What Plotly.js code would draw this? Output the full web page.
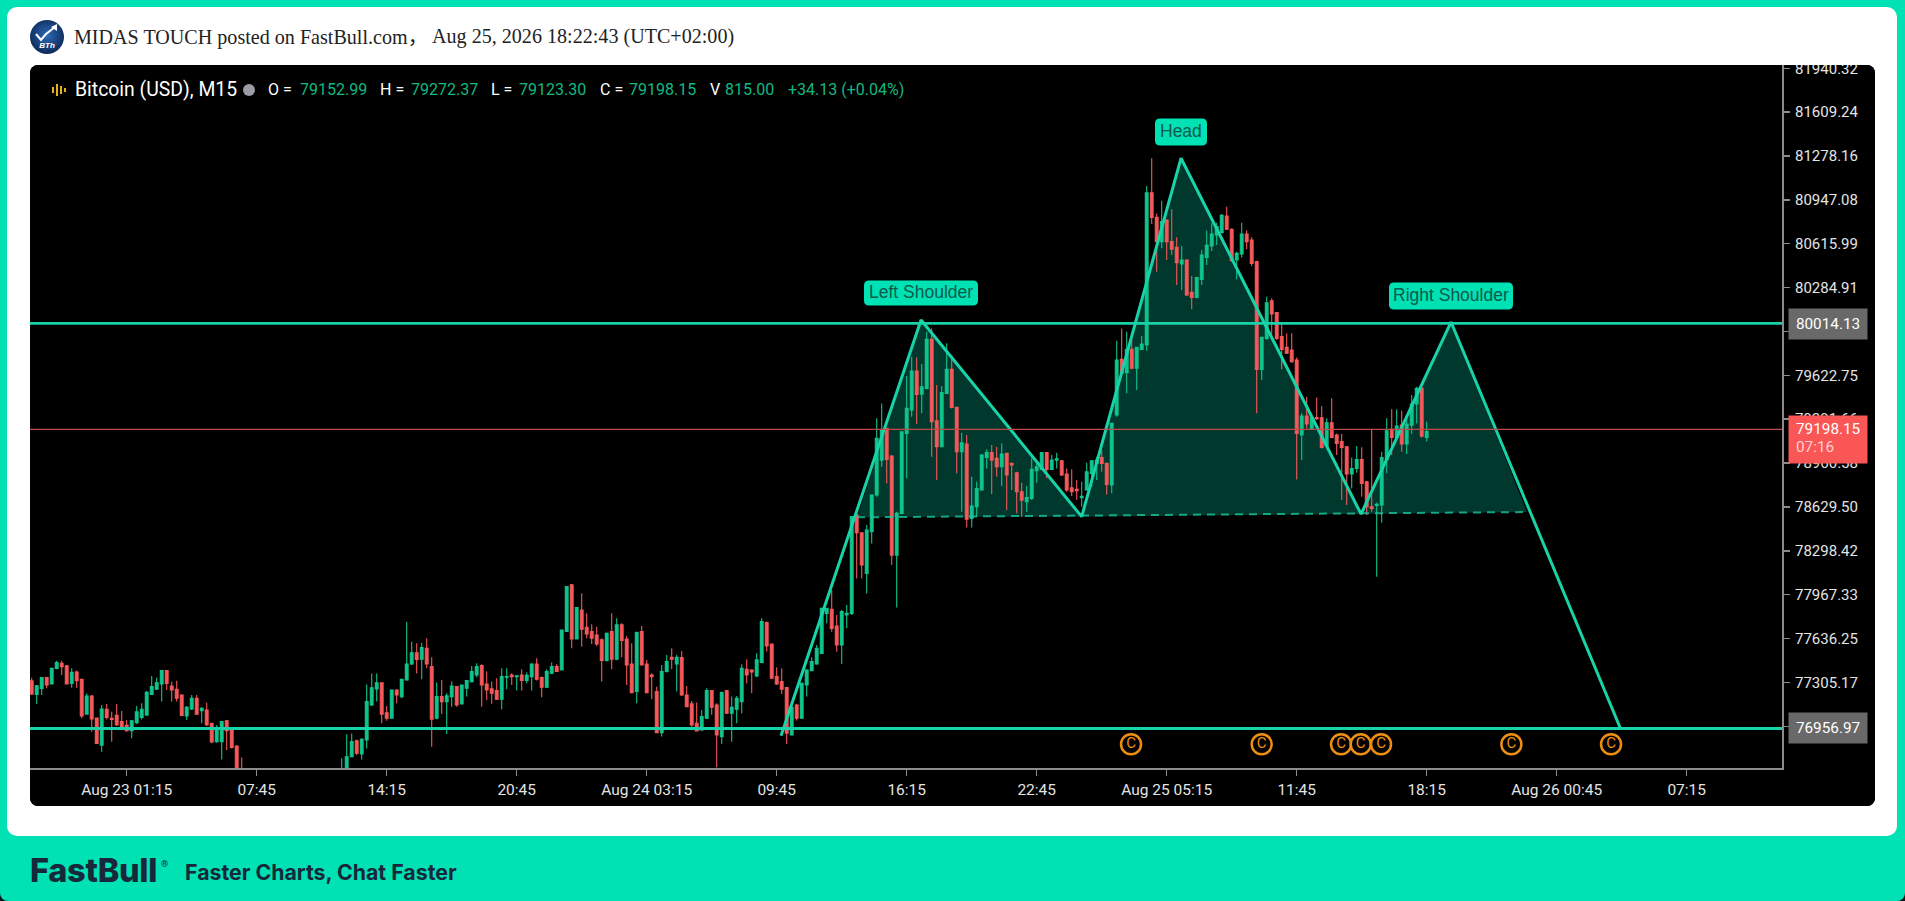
<!DOCTYPE html>
<html lang="zh-CN">
<head>
<meta charset="utf-8">
<script src="https://cdn.plot.ly/plotly-3.0.1.min.js"></script>
<style>
html,body{margin:0;padding:0;width:1905px;height:901px;overflow:hidden;background:#101418;}
#frame{position:absolute;left:0;top:0;width:1905px;height:901px;background:#00E1B4;border-radius:0 0 8px 8px;}
#card{position:absolute;left:7px;top:7px;width:1890px;height:829px;background:#fff;border-radius:10px;}
#avatar{position:absolute;left:30px;top:20px;width:34px;height:34px;}
.hdr{position:absolute;top:24px;font-family:"Liberation Serif",serif;font-size:20.1px;color:#222;white-space:pre;line-height:24px;}
#chart{position:absolute;left:30px;top:65px;width:1845px;height:741px;border-radius:8px;overflow:hidden;background:#000;}
#logo{position:absolute;left:30px;top:851px;font-family:Inter,sans-serif;font-weight:800;font-size:32.5px;line-height:40px;color:#17283A;letter-spacing:-0.3px;}
#reg{position:absolute;left:161px;top:859px;font-family:Roboto,sans-serif;font-size:9px;color:#17283A;line-height:10px;}
#slogan{position:absolute;left:185px;top:859px;font-family:Inter,sans-serif;font-weight:700;font-size:21.3px;line-height:27px;color:#17283A;}
</style>
</head>
<body>
<div id="frame">
  <div id="card"></div>
  <svg id="avatar" viewBox="0 0 34 34">
    <defs><radialGradient id="g" cx="50%" cy="45%" r="60%"><stop offset="0%" stop-color="#2C6CB8"/><stop offset="100%" stop-color="#0B2350"/></radialGradient></defs>
    <circle cx="17" cy="17" r="17" fill="url(#g)"/>
    <polyline points="6,14 11,20 16,14 25,7" fill="none" stroke="#fff" stroke-width="2"/>
    <polygon points="27,4 27,11 21,7" fill="#fff"/>
    <text x="17" y="28" text-anchor="middle" font-family="Liberation Sans" font-style="italic" font-weight="700" font-size="8" fill="#fff">BTh</text>
  </svg>
  <div class="hdr" style="left:74px">MIDAS TOUCH posted on FastBull.com<span style="font-family:'Noto Sans CJK SC'">，</span></div>
  <div class="hdr" style="left:432px">Aug 25, 2026 18:22:43 (UTC+02:00)</div>
  <div id="chart"></div>
  <div id="logo">FastBull</div>
  <div id="reg">®</div>
  <div id="slogan">Faster Charts, Chat Faster</div>
</div>
<script>
// ---------- candle values (Bitcoin (USD), M15) ----------
const firstCandle = '2026-08-22T20:30:00Z';
const open = [
77318,77215,77260,77341,77293,77411,77449,77431,77298,77383,
77328,77066,77202,77036,76832,77102,77034,77056,77009,76981,
76941,77001,77041,77059,77215,77253,77293,77394,77278,77253,
77210,77051,77104,77185,77092,77097,76996,76858,76858,77016,
76958,76825,76640,null,null,null,null,null,null,null,
null,null,null,null,null,null,null,null,null,null,
null,null,76600,76640,76744,76865,76765,76870,77134,77255,
77303,77076,77034,77248,77197,77323,77444,77529,77480,77563,
77424,77034,77198,77160,77198,77273,77143,77261,77311,77361,
77432,77293,77256,77243,77178,77344,77361,77349,77361,77319,
77349,77444,77341,77268,77374,77424,77399,77689,78041,77633,
77852,77721,77689,77663,77626,77470,77689,77480,77739,77633,
77444,77236,77689,77444,77361,77236,76926,77387,77495,77444,
77492,77210,77143,76997,76946,77034,77243,77135,76896,77243,
77072,77102,77160,77404,77399,77354,77455,77756,77595,77349,
77311,77266,76909,77135,77034,77286,77394,77444,77524,77826,
77857,77731,77587,77814,77826,78568,78435,78128,78442,78719,
78983,79222,79013,78266,78581,79185,79361,79655,79481,79524,
79894,79280,79084,79486,79668,79381,79046,79104,78543,78631,
78757,79003,79039,78996,78933,79034,78958,78888,78744,78669,
78694,78903,78913,79039,78913,78983,78978,78878,78774,78762,
78700,78757,78883,78958,79003,78958,78795,79323,79743,79643,
79819,79676,79819,79852,81001,80815,80632,80795,80632,80589,
80463,80493,80249,80211,80347,80513,80599,80682,80700,80825,
80725,80493,80538,80689,80644,80481,79668,79902,80186,80096,
79915,79834,79814,79738,79172,79315,79222,79305,79303,79089,
79265,79172,79122,79084,78878,78920,78988,78820,78631,78640,
78644,78988,79215,79154,79247,79104,79247,79406,79524,79152.99];
const high = [
77341,77285,77343,77348,77416,77469,77469,77436,77411,77394,
77328,77222,77210,77039,77134,77142,77084,77142,77089,77021,
77021,77127,77147,77240,77353,77343,77399,77399,77310,77318,
77215,77127,77210,77210,77117,77152,77001,76983,77016,77021,
76966,76830,76739,null,null,null,null,null,null,null,
null,null,null,null,null,null,null,null,null,null,
null,null,76732,76913,76920,76875,76883,77290,77373,77373,
77303,77127,77248,77253,77333,77763,77612,77600,77605,77638,
77495,77304,77324,77223,77311,77278,77286,77324,77429,77449,
77442,77387,77311,77336,77412,77412,77374,77361,77404,77379,
77450,77487,77349,77404,77455,77442,77701,78033,78048,77872,
77978,77827,77744,77726,77638,77681,77827,77789,77751,77656,
77600,77689,77731,77475,77374,77273,77437,77512,77563,77512,
77543,77278,77165,77153,77097,77261,77248,77148,77236,77243,
77198,77203,77442,77480,77404,77525,77789,77764,77595,77419,
77412,77266,77135,77143,77304,77404,77495,77588,77869,77869,
78003,77814,77852,77889,78560,78581,78435,78493,78719,79298,
79411,79222,79021,78593,79197,79617,79763,79758,79708,79952,
79977,79549,79542,79864,79776,79386,79190,79172,78857,78820,
79029,79064,79097,79084,79109,79039,78963,78895,78812,78787,
78996,78958,79044,79044,79021,79039,78983,78920,78913,78832,
78820,78963,78983,79008,79059,78963,79260,79884,79977,79952,
79889,79839,79920,81052,81261,80845,80941,80800,80876,80664,
80599,80498,80372,80362,80569,80715,80770,80775,80840,80896,
80732,80556,80775,80715,80664,80488,79914,80216,80204,80101,
80020,79940,79940,79758,79336,79462,79310,79456,79391,79298,
79449,79184,79180,79089,79003,79089,79079,78827,79215,78661,
79046,79298,79366,79366,79356,79310,79474,79537,79542,79272.37];
const low = [
77210,77142,77210,77260,77290,77404,77361,77290,77265,77265,
77034,77064,76933,76840,76782,77026,76858,76976,76946,76933,
76883,76991,77026,77051,77210,77248,77160,77248,77160,77160,
77051,77021,77097,77059,76996,76976,76845,76850,76724,76795,
76807,76600,76560,null,null,null,null,null,null,null,
null,null,null,null,null,null,null,null,null,null,
null,null,76550,76620,76739,76757,76724,76807,77127,77160,
76996,77016,77031,77147,77185,77318,77436,77373,77329,77412,
76820,77027,77067,76916,77122,77122,77140,77198,77304,77344,
77122,77173,77143,77173,77102,77253,77286,77243,77243,77299,
77243,77319,77193,77263,77369,77384,77394,77686,77563,77631,
77575,77638,77595,77580,77311,77462,77404,77475,77495,77286,
77223,77148,77432,77223,77178,76921,76896,77379,77404,77236,
77203,77117,76971,76934,76941,77029,77060,76665,76841,77067,
76858,76997,77072,77298,77223,77344,77450,77538,77331,77286,
77218,76841,76904,77017,77029,77198,77389,77439,77519,77751,
77688,77537,77444,77713,77813,78090,78090,77977,78354,78706,
78933,78807,78191,77871,78576,78845,79310,79255,79336,79517,
79008,78832,79079,79481,79373,78883,78593,78475,78475,78556,
78752,78920,78727,78857,78787,78606,78757,78581,78556,78593,
78681,78812,78908,78845,78908,78920,78863,78744,78712,78681,
78631,78752,78782,78832,78895,78724,78732,79310,79625,79487,
79668,79512,79814,79809,80765,80405,80581,80493,80531,80304,
80267,80222,80121,80204,80304,80455,80561,80606,80695,80720,
80481,80347,80513,80574,80448,79336,79587,79894,79889,79889,
79668,79784,79718,78837,78983,79222,79215,79285,79071,79084,
79147,79021,78681,78644,78769,78888,78706,78568,78593,78103,
78510,78883,79021,79147,79046,79029,79180,79260,79154,79123.30];
const close = [
77217,77280,77341,77285,77411,77454,77424,77293,77381,77318,
77051,77202,77029,76845,77104,77041,77026,76986,76966,76941,
77016,77084,77102,77230,77273,77303,77394,77298,77248,77185,
77056,77117,77185,77066,77109,76986,76855,76941,77009,76941,
76815,76640,76600,null,null,null,null,null,null,null,
null,null,null,null,null,null,null,null,null,null,
null,null,76650,76744,76858,76770,76875,77160,77265,77303,
77066,77034,77248,77210,77328,77444,77529,77479,77568,77444,
77027,77198,77160,77203,77278,77135,77286,77319,77387,77424,
77286,77248,77223,77178,77349,77349,77349,77354,77319,77359,
77444,77329,77268,77387,77424,77387,77701,78028,77633,77870,
77706,77671,77638,77595,77470,77676,77480,77739,77621,77437,
77228,77681,77437,77228,77349,76926,77387,77462,77480,77495,
77210,77122,76984,76939,77047,77243,77117,76909,77228,77072,
77117,77185,77412,77361,77384,77475,77764,77580,77336,77293,
77253,76921,77117,77034,77298,77399,77462,77563,77864,77864,
77713,77587,77839,77826,78556,78435,78191,78455,78719,79147,
79210,78988,78266,78581,79197,79373,79655,79479,79537,79894,
79273,79084,79492,79668,79381,79046,79114,78536,78636,78769,
79021,79039,78983,78933,79029,78870,78946,78744,78681,78701,
78913,78933,79039,78913,78983,78993,78870,78757,78744,78752,
78710,78895,78978,78983,78958,78800,79260,79738,79638,79819,
79676,79834,79859,81001,80815,80632,80783,80632,80574,80473,
80493,80229,80211,80360,80531,80604,80689,80745,80830,80725,
80488,80543,80689,80632,80468,79668,79910,80171,80086,79902,
79819,79789,79726,79185,79315,79255,79300,79295,79079,79265,
79154,79109,79079,78878,78920,78988,78807,78631,78618,78650,
79003,79205,79154,79240,79104,79255,79406,79524,79164,79198.15];

// ---------- price axis (the labels at 79953.83 and 76974.09 sit hidden behind the price tags) ----------
const yTickVals = [81940.32,81609.24,81278.16,80947.08,80615.99,80284.91,79953.83,79622.75,79291.66,78960.58,78629.50,78298.42,77967.33,77636.25,77305.17,76974.09];
const yTickText = ['81940.32','81609.24','81278.16','80947.08','80615.99','80284.91','','79622.75','79291.66','78960.58','78629.50','78298.42','77967.33','77636.25','77305.17',''];

// ---------- time axis ----------
const xTickVals = ['2026-08-23 01:15','2026-08-23 07:45','2026-08-23 14:15','2026-08-23 20:45','2026-08-24 03:15','2026-08-24 09:45','2026-08-24 16:15','2026-08-24 22:45','2026-08-25 05:15','2026-08-25 11:45','2026-08-25 18:15','2026-08-26 00:45','2026-08-26 07:15'];
const xTickText = ['Aug 23 01:15','07:45','14:15','20:45','Aug 24 03:15','09:45','16:15','22:45','Aug 25 05:15','11:45','18:15','Aug 26 00:45','07:15'];

// ---------- head and shoulders drawing ----------
const patternTimes  = ['2026-08-24 09:58','2026-08-24 16:58','2026-08-25 01:00','2026-08-25 05:58','2026-08-25 14:58','2026-08-25 19:28','2026-08-26 03:56'];
const patternPrices = [76903,80040,78556,81261,78576,80025,76959];
const neckTimes  = ['2026-08-24 13:46','2026-08-25 23:16'];
const neckPrices = [78551,78591];
const resistanceLevel = 80014.13;
const supportLevel = 76956.97;
const lastPriceLine = 79215;

// ---------- event markers ----------
const eventTimes = ['2026-08-25 03:28','2026-08-25 10:00','2026-08-25 13:58','2026-08-25 14:57','2026-08-25 15:58','2026-08-25 22:29','2026-08-26 03:28'];
const eventPrices = [76838,76838,76838,76838,76838,76838,76838];

// ---------- texts ----------
const legendTitle = 'Bitcoin (USD), M15';
const legendKeys = ['O =','H =','L =','C =','V'];
const legendVals = ['79152.99','79272.37','79123.30','79198.15','815.00'];
const legendChange = '+34.13 (+0.04%)';

// ---------- helpers: picture pixels to paper fractions ----------
const PL=30,PR=1782,PT=65,PB=768;
const fx=p=>(p-PL)/(PR-PL), fy=p=>1-(p-PT)/(PB-PT);
const candleTimes = open.map((_,i)=>new Date(Date.parse(firstCandle)+i*900000).toISOString().slice(0,16).replace('T',' '));

const TEAL='#18D3A8', FILL='rgba(0,225,180,0.25)';
const traces=[
 {type:'candlestick',x:candleTimes,open,high,low,close,
  increasing:{line:{color:'#10C48C',width:1.1},fillcolor:'#10C48C'},
  decreasing:{line:{color:'#F4585A',width:1.1},fillcolor:'#F4585A'},hoverinfo:'skip'},
 {type:'scatter',mode:'lines',x:neckTimes,y:neckPrices,line:{color:'rgba(28,205,165,0.75)',width:2,dash:'8px,6px'},hoverinfo:'skip'},
 {type:'scatter',mode:'lines',x:patternTimes,y:patternPrices,line:{color:TEAL,width:3},hoverinfo:'skip'},
 {type:'scatter',mode:'markers+text',x:eventTimes,y:eventPrices,text:eventTimes.map(()=>'C'),textposition:'middle center',
  textfont:{family:'Roboto',size:15,color:'#EE8F12'},
  marker:{symbol:'circle',size:20,color:'#000',line:{color:'#EE8F12',width:2.5}},hoverinfo:'skip'}
];

function rrPath(w,h,r){
  const a=w/2,b=h/2;
  return `M ${-a+r} ${b} L ${a-r} ${b} Q ${a} ${b} ${a} ${b-r} L ${a} ${-b+r} Q ${a} ${-b} ${a-r} ${-b} L ${-a+r} ${-b} Q ${-a} ${-b} ${-a} ${-b+r} L ${-a} ${b-r} Q ${-a} ${b} ${-a+r} ${b} Z`;
}
function pill(cx,cy,w,h){
  return {type:'path',xref:'paper',yref:'paper',xsizemode:'pixel',ysizemode:'pixel',xanchor:fx(cx),yanchor:fy(cy),path:rrPath(w,h,5),fillcolor:'#00E1B4',line:{width:0},layer:'above'};
}
const hline=(y,color,w)=>({type:'line',xref:'paper',yref:'y',x0:0,x1:1,y0:y,y1:y,line:{color:color,width:w},layer:'above'});
const pbox=(x0,x1,y0,y1,c)=>({type:'rect',xref:'paper',yref:'paper',x0:fx(x0),x1:fx(x1),y0:fy(y0),y1:fy(y1),fillcolor:c,line:{width:0},layer:'above'});
// translucent triangles go under the candles: a shape on layer "below", on the data axes
const tri=(ts,ps)=>({type:'path',xref:'x',yref:'y',layer:'below',fillcolor:FILL,line:{width:0},
  path:'M '+ts.map((t,i)=>t.replace(' ','_')+' '+ps[i]).join(' L ')+' Z'});

const shapes=[
 tri([neckTimes[0],patternTimes[1],patternTimes[2]],[neckPrices[0],patternPrices[1],patternPrices[2]]),
 tri([patternTimes[2],patternTimes[3],patternTimes[4]],[patternPrices[2],patternPrices[3],patternPrices[4]]),
 tri([patternTimes[4],patternTimes[5],neckTimes[1]],[patternPrices[4],patternPrices[5],neckPrices[1]]),
 hline(lastPriceLine,'#C0484B',1.3),
 hline(resistanceLevel,TEAL,2.8),
 hline(supportLevel,TEAL,2.8),
 pill(921,293,114,25),pill(1181,132,52,27),pill(1451,296,124,27),
 pbox(52,54,87,93,'#E7B416'),pbox(56,58,84,96,'#E7B416'),pbox(60,62,86,94,'#E7B416'),pbox(64,66,88,92,'#E7B416'),
 {type:'circle',xref:'paper',yref:'paper',x0:fx(243),x1:fx(255),y0:fy(84),y1:fy(96),fillcolor:'#9A9DA3',line:{width:0},layer:'above'}
];

const ann=(px,py,text,opts)=>Object.assign({xref:'paper',yref:'paper',x:fx(px),y:fy(py),text,showarrow:false,xanchor:'left',yanchor:'middle',borderpad:0,font:{family:'Roboto',size:15.5,color:'#fff'}},opts||{});
const GREEN='#12B981';
const keyX=[267,379,490,599,709], valX=[299,410,518,628,724];
const annotations=[ ann(74,90,legendTitle,{font:{family:'Roboto',size:19.4,color:'#fff'}}) ];
legendKeys.forEach((k,i)=>{
  annotations.push(ann(keyX[i],90,k,{font:{family:'Roboto',size:16,color:'#fff'}}));
  annotations.push(ann(valX[i],90,legendVals[i],{font:{family:'Roboto',size:16,color:GREEN}}));
});
annotations.push(ann(787,90,legendChange,{font:{family:'Roboto',size:16,color:GREEN}}));
const labelFont={family:'Liberation Sans',size:17.5,color:'#0D5A4C'};
annotations.push(ann(921,292,'Left Shoulder',{xanchor:'center',font:labelFont}));
annotations.push(ann(1181,131,'Head',{xanchor:'center',font:labelFont}));
annotations.push(ann(1451,295,'Right Shoulder',{xanchor:'center',font:labelFont}));
const tagFont={family:'Roboto',size:15.3,color:'#fff'};
annotations.push(ann(1787.7,323.8,'80014.13',{width:78,height:30,bgcolor:'#696969',align:'center',font:tagFont}));
annotations.push(ann(1787.7,728,'76956.97',{width:78,height:30,bgcolor:'#696969',align:'center',font:tagFont}));
annotations.push(ann(1787.7,439,'&nbsp;',{width:78,height:47,bgcolor:'#FA5656',font:tagFont}));
annotations.push(ann(1795,429,'79198.15',{font:tagFont}));
annotations.push(ann(1795,447,'07:16',{font:{family:'Roboto',size:15.3,color:'#FFD2D2'}}));

const layout={
 width:1845,height:741,paper_bgcolor:'#000',plot_bgcolor:'#000',
 margin:{l:0,r:93,t:0,b:38},showlegend:false,dragmode:false,hovermode:false,boxgap:0.2,
 xaxis:{type:'date',range:['2026-08-22 20:24:54','2026-08-26 12:00:54'],rangeslider:{visible:false},
   tickmode:'array',tickvals:xTickVals,ticktext:xTickText,showgrid:false,zeroline:false,
   showline:true,linecolor:'#8C8C8C',linewidth:2,ticks:'outside',ticklen:6,tickcolor:'#8C8C8C',tickwidth:1.5,
   tickfont:{family:'Roboto',size:15.5,color:'#E4E4E4'}},
 yaxis:{side:'right',range:[76659,81965],tickmode:'array',tickvals:yTickVals,ticktext:yTickText,showgrid:false,zeroline:false,
   showline:true,linecolor:'#8C8C8C',linewidth:2,ticks:'outside',ticklen:6,tickcolor:'#8C8C8C',tickwidth:1.5,
   ticklabeloverflow:'allow',ticklabelstandoff:2,
   tickfont:{family:'Roboto',size:15,color:'#E4E4E4'}},
 shapes,annotations
};
Plotly.newPlot('chart',traces,layout,{staticPlot:true,displayModeBar:false});
</script>
</body>
</html>
